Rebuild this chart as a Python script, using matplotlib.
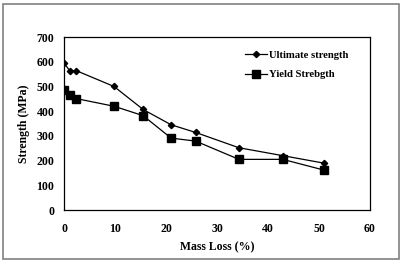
import matplotlib.pyplot as plt
from matplotlib.patches import Rectangle

# data
mass_loss = [0, 1.1, 2.4, 9.8, 15.5, 21, 25.8, 34.3, 42.9, 50.9]
ultimate = [595, 564, 564, 500, 407, 345, 314, 252, 220, 190]
yield_str = [484, 467, 451, 420, 382, 291, 279, 205, 205, 162]

plt.rcParams['font.family'] = ['Liberation Serif', 'DejaVu Serif']
plt.rcParams['font.weight'] = 'bold'

fig = plt.figure(figsize=(4.03, 2.63), dpi=100)
ax = fig.add_axes([0.159, 0.2015, 0.759, 0.6575])

ax.plot(mass_loss, ultimate, color='black', lw=0.9, marker='D', ms=3.2,
        label='Ultimate strength')
ax.plot(mass_loss, yield_str, color='black', lw=0.9, marker='s', ms=5.8,
        label='Yield Strebgth')

ax.set_xlim(0, 60)
ax.set_ylim(0, 700)
ax.set_xticks(range(0, 61, 10))
ax.set_yticks(range(0, 701, 100))
ax.tick_params(axis='x', length=0, labelsize=8.5, pad=9)
ax.tick_params(axis='y', length=0, labelsize=8.5, pad=7)
for lab in ax.get_xticklabels() + ax.get_yticklabels():
    lab.set_fontweight('bold')
for s in ax.spines.values():
    s.set_linewidth(0.9)

ax.set_xlabel('Mass Loss (%)', fontsize=8.5, fontweight='bold', labelpad=5)
ax.set_ylabel('Strength (MPa)', fontsize=8.5, fontweight='bold', labelpad=5)

leg = ax.legend(loc='upper right', bbox_to_anchor=(0.96, 0.98), frameon=False,
                fontsize=7.7, handlelength=2.0, handletextpad=0.2, labelspacing=0.95)
for t in leg.get_texts():
    t.set_fontweight('bold')

fig.patches.append(Rectangle((0.008, 0.015), 0.983, 0.97, transform=fig.transFigure,
                             fill=False, edgecolor='#808080', lw=1.2))

fig.savefig('out.png', dpi=100)
